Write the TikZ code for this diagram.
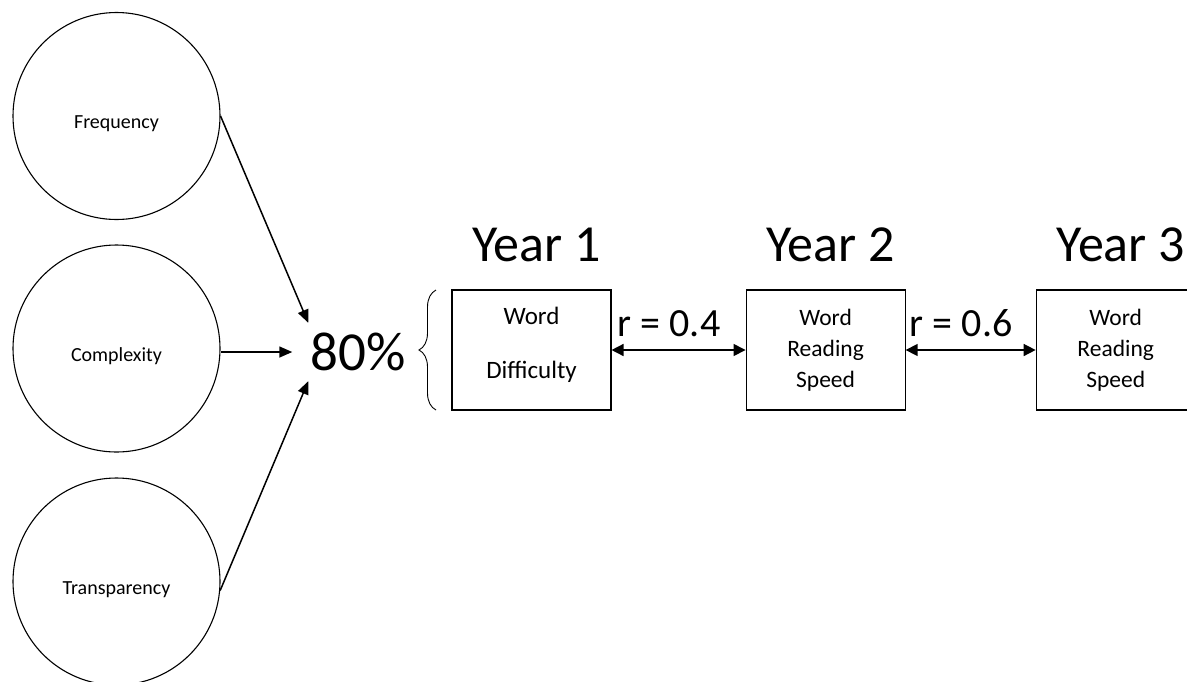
\documentclass[tikz,border=0pt]{standalone}
\usepackage{fontspec}
\setmainfont{Carlito}
\usetikzlibrary{arrows.meta,positioning,decorations.pathreplacing}

\begin{document}
\begin{tikzpicture}[x=1pt,y=-1pt,every node/.style={align=center}]
\tikzset{factor/.style={draw,circle,line width=1.1pt,minimum size=207pt,inner sep=0pt,text height=30pt,text depth=5pt,font=\fontsize{20}{24}\selectfont},
  measure/.style={draw,line width=1.1pt,minimum width=159pt,minimum height=120pt,inner sep=0pt,font=\fontsize{23.5}{31}\selectfont},
  year/.style={font=\fontsize{52}{60}\selectfont,inner sep=0pt},
  link/.style={-{Triangle[length=13pt,width=11pt]},line width=1.5pt}}
\clip (0,0) rectangle (1187,681);
% predictors
\node[factor] (c1) at (116.5,116) {Frequency};
\node[factor] (c2) at (116.5,348.5) {Complexity};
\node[factor] (c3) at (116.5,581.5) {Transparency};
\node[font=\fontsize{55}{60}\selectfont,inner xsep=2pt,inner ysep=10pt] (pct) at (358,352) {80\%};
\draw[link] (c1.east) -- (pct.north west);
\draw[link,shorten >=16pt] (c2.east |- pct.west) -- (pct.west);
\draw[link] (c3.-5) -- (pct.south west);
\draw[line width=0.9pt,decorate,decoration={brace,amplitude=17pt,aspect=0.5}] (436,410) -- (436,290);
% measures
\node[measure,font=\fontsize{25}{31}\selectfont,text depth=15pt] (b1) at (531.5,350) {Word\\[23pt]Difficulty};
\node[measure,right=134pt of b1] (b2) {Word\\Reading\\Speed};
\node[measure,right=130pt of b2] (b3) {Word\\Reading\\Speed};
\foreach \b/\n in {b1/1,b2/2,b3/3}{
  \node[year,above=28pt of \b,anchor=base,xshift=5pt] (y\n) {Year \n};
}
\foreach \a/\b/\r in {b1/b2/0.4,b2/b3/0.6}{
  \draw[{Triangle[length=12pt,width=12pt]}-{Triangle[length=12pt,width=12pt]},line width=1.5pt] (\a) -- node[above=12pt,xshift=-9.5pt,inner sep=0pt,font=\fontsize{40}{46}\selectfont] {r = \r} (\b);
}
\end{tikzpicture}
\end{document}
